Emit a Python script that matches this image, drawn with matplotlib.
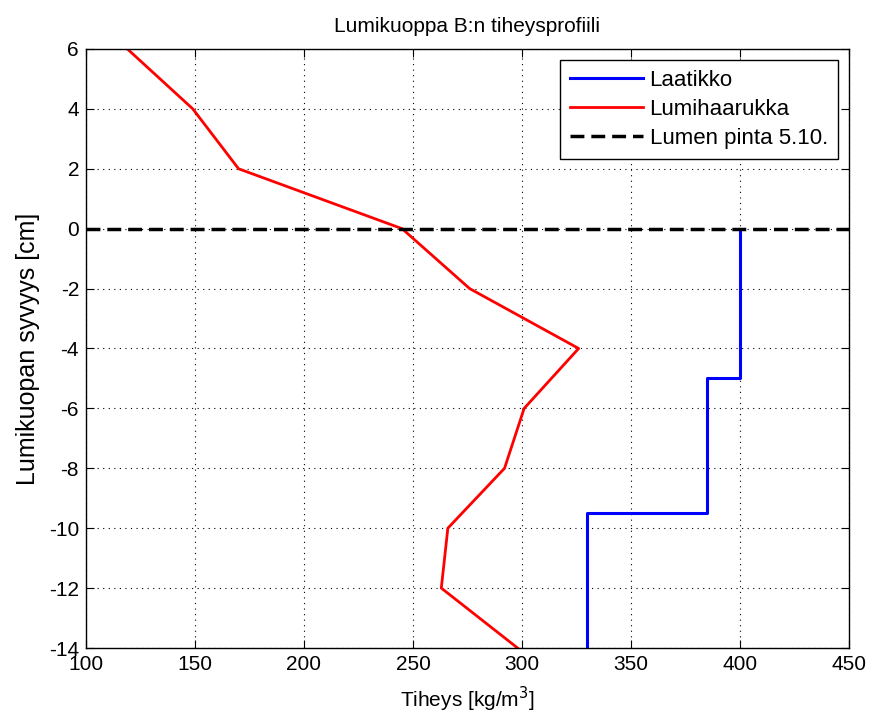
import numpy as np
import matplotlib
matplotlib.use('Agg')
import matplotlib.pyplot as plt

plt.rcParams['font.family'] = ['Liberation Sans', 'DejaVu Sans']
plt.rcParams['axes.unicode_minus'] = False

# Laatikko (box sampler), step profile
box_density = [400, 400, 385, 385, 330, 330]
box_depth = [0, -5, -5, -9.5, -9.5, -14]

# Lumihaarukka (snow fork)
fork_density = [119, 149, 170, 245, 276, 326, 301, 292, 266, 263, 298]
fork_depth = [6, 4, 2, 0, -2, -4, -6, -8, -10, -12, -14]

surface_x = [100, 450]
surface_y = [0, 0]

fig = plt.figure(figsize=(8.71, 7.2), dpi=100)
ax = fig.add_axes([0.0987, 0.1, 0.876, 0.832])

ax.plot(box_density, box_depth, color='#0000ff', lw=2.2, label='Laatikko')
ax.plot(fork_density, fork_depth, color='#ff0000', lw=2.0, label='Lumihaarukka')
ax.plot(surface_x, surface_y, color='black', lw=2.5, ls=(0, (4, 2)), label='Lumen pinta 5.10.')

ax.set_xlim(100, 450)
ax.set_ylim(-14, 6)
ax.set_xticks(np.arange(100, 451, 50))
ax.set_yticks(np.arange(-14, 7, 2))
ax.grid(True, color='black', ls=(0, (1, 4)), lw=0.8)
ax.tick_params(direction='in', length=6, labelsize=15, top=True, right=True, pad=5)
for s in ax.spines.values():
    s.set_linewidth(1.0)

ax.set_title('Lumikuoppa B:n tiheysprofiili', fontsize=15, pad=12)
ax.set_xlabel('Tiheys [kg/m$^3$]', fontsize=15, labelpad=8)
ax.set_ylabel('Lumikuopan syvyys [cm]', fontsize=18, labelpad=6)

leg = ax.legend(loc='upper right', fontsize=16, fancybox=False, edgecolor='black',
                framealpha=1, handlelength=3.3, handletextpad=0.3, borderaxespad=0.5,
                labelspacing=0.35, borderpad=0.45)
leg.get_frame().set_linewidth(1.0)

fig.savefig('out.png', dpi=100)
